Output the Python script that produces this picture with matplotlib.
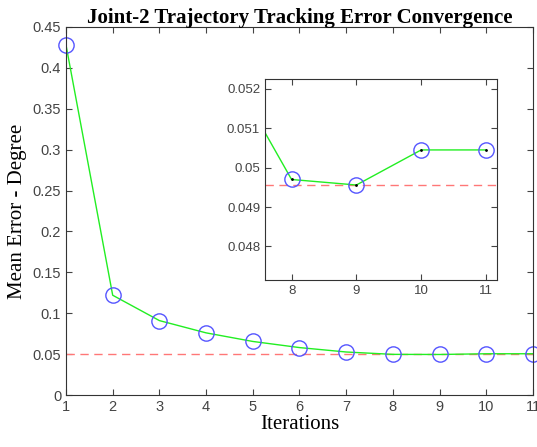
import matplotlib.pyplot as plt
import numpy as np

# Data
iterations = np.arange(1, 12)
mean_error = [0.428, 0.122, 0.091, 0.076, 0.0655, 0.058, 0.0526, 0.0497, 0.04956, 0.05045, 0.05045]
min_error = 0.04956

line_col = '#22ee22'
mark_col = '#5555ff'
ref_col = '#ff7777'
tick_col = '#444444'

plt.rcParams['font.family'] = 'Liberation Sans'

fig = plt.figure(figsize=(5.37, 4.47), dpi=100)
ax = fig.add_axes([0.1229, 0.1163, 0.8696, 0.8233])

ax.axhline(min_error, color=ref_col, ls=(0, (6, 4)), lw=1)
ax.plot(iterations, mean_error, color=line_col, lw=1)
ax.plot(iterations, mean_error, 'o', ms=11, mfc='none', mec=mark_col, mew=1, clip_on=False)
ax.set_xlim(1, 11)
ax.set_ylim(0, 0.45)
ax.set_xticks(iterations)
yt = np.arange(0, 0.46, 0.05)
ax.set_yticks(yt)
ax.set_yticklabels(['0'] + ['%g' % round(v, 2) for v in yt[1:]])
ax.tick_params(direction='in', top=True, right=True, labelsize=10.5, colors=tick_col, labelcolor=tick_col, length=4)
for s in ax.spines.values():
    s.set_color('#333333')
ax.set_xlabel('Iterations', family='Liberation Serif', fontsize=15, labelpad=1)
ax.set_ylabel('Mean Error - Degree', family='Liberation Serif', fontsize=15, labelpad=4)
ax.set_title('Joint-2 Trajectory Tracking Error Convergence', family='Liberation Serif',
             fontweight='bold', fontsize=15, pad=3)

# Inset zoom on the last iterations
ins = fig.add_axes([0.4935, 0.3736, 0.432, 0.4497])
ins.axhline(min_error, color=ref_col, ls=(0, (6, 4)), lw=1)
ins.plot(iterations, mean_error, color=line_col, lw=1)
ins.plot(iterations, mean_error, 'o', ms=11, mfc='none', mec=mark_col, mew=1)
ins.plot(iterations, mean_error, '.', ms=2, color='black')
ins.set_xlim(7.59, 11.17)
ins.set_ylim(0.04715, 0.05225)
ins.set_xticks([8, 9, 10, 11])
ins.set_yticks([0.048, 0.049, 0.05, 0.051, 0.052])
ins.set_yticklabels(['0.048', '0.049', '0.05', '0.051', '0.052'])
ins.tick_params(direction='in', top=True, right=True, labelsize=9.5, colors=tick_col, labelcolor=tick_col, length=4)
for s in ins.spines.values():
    s.set_color('#333333')

fig.savefig('out.png', dpi=100)
